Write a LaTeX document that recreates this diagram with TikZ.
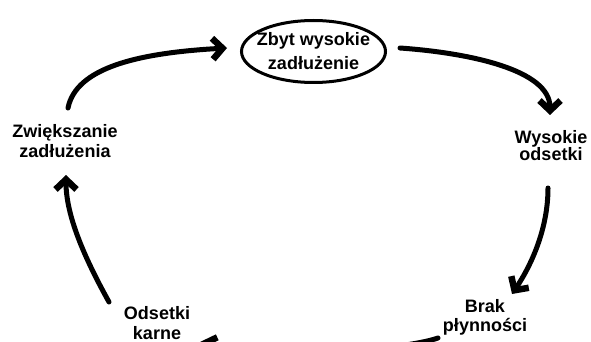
\documentclass[tikz,border=0pt]{standalone}
\usepackage{fontspec}
\setmainfont{Liberation Sans}
\usetikzlibrary{arrows.meta,shapes.geometric}

\tikzset{
  label/.style={inner sep=0pt, align=center},
  arr/.style={line width=5pt, line cap=round,
    -{Straight Barb[length=10pt,width=21pt,line width=6.5pt]}},
  oval/.style={draw, ellipse, line width=3pt, inner sep=0pt,
    minimum width=144pt, minimum height=62pt},
}

\begin{document}
\begin{tikzpicture}[x=1pt, y=-1pt]
  % page area
  \useasboundingbox (0,0) rectangle (591,342);
  \fill[white] (0,0) rectangle (591,342);
  \clip (0,0) rectangle (591,342);

  % the five stages of the debt spiral
  \node[oval] (debt) at (313.5,51.5) {};
  \node[label, font=\bfseries\fontsize{18}{24}\selectfont] (debttext) at (debt.center)
    {Zbyt wysokie\\zadłużenie};
  \node[label, font=\bfseries\fontsize{18}{17}\selectfont] (interest) at (551,146)
    {Wysokie\\odsetki};
  \node[label, font=\bfseries\fontsize{18}{19}\selectfont] (liquidity) at (485,317.7)
    {Brak\\płynności};
  \node[label, font=\bfseries\fontsize{18}{20}\selectfont] (penalty) at (157,323)
    {Odsetki\\karne};
  \node[label, font=\bfseries\fontsize{18}{20}\selectfont] (borrow) at (65,141.5)
    {Zwiększanie\\zadłużenia};

  % cycle connectors
  \draw[arr] ([shift={(3,-33.5)}]borrow.center)
    .. controls +(8,-40) and +(-90,5) .. ([shift={(-86.5,-3.5)}]debt.center);
  \draw[arr] ([shift={(86.5,-3.5)}]debt.center)
    .. controls +(70,5) and +(0,-45) .. ([shift={(-1,-31)}]interest.center);
  \draw[arr] ([shift={(-3,42)}]interest.center)
    .. controls +(0,40) and +(20,-30) .. ([shift={(27,-23.7)}]liquidity.center);
  \draw[arr] ([shift={(-47,20.3)}]liquidity.center)
    .. controls +(-40,14) and +(45,17) .. ([shift={(43,19)}]penalty.center);
  \draw[arr] ([shift={(-48,-21)}]penalty.center)
    .. controls +(-25,-45) and +(0,40) .. ([shift={(1,33.5)}]borrow.center);
\end{tikzpicture}
\end{document}
